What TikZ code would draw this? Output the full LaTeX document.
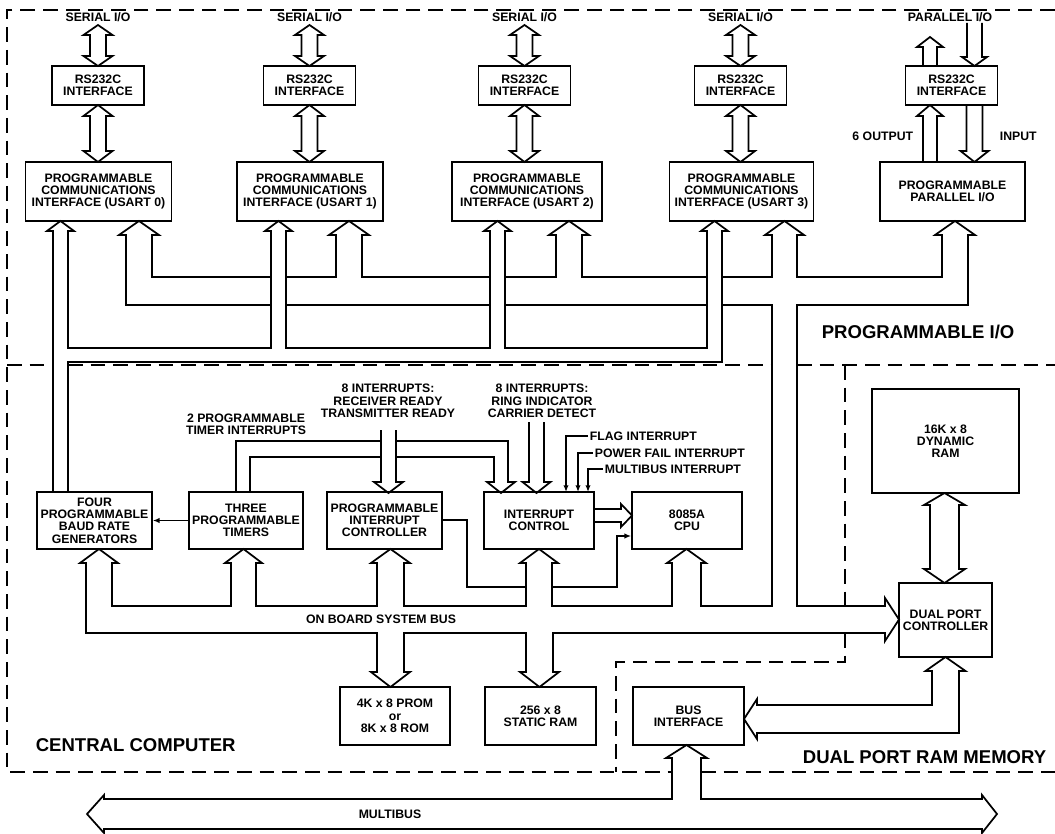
\documentclass[tikz,border=0pt]{standalone}
\usepackage{fontspec}
\setmainfont{Liberation Sans}
\usetikzlibrary{arrows.meta}

\tikzset{every picture/.style={line width=1.3pt}}
\tikzset{
  txt/.style={font=\bfseries\fontsize{9.2}{9.2}\selectfont, align=center, inner sep=0.75pt},
  big/.style={font=\bfseries\fontsize{13.9}{15}\selectfont, inner sep=0.75pt},
  blk/.style n args={2}{txt, draw, inner sep=0pt, minimum width=#1*0.75pt, minimum height=#2*0.75pt},
  region/.style={line width=1.1pt, dash pattern={on 11pt off 6pt}},
  sig/.style={-{Latex[length=5pt,width=4pt]}},
}

\begin{document}
\begin{tikzpicture}[x=0.75pt,y=0.75pt,yscale=-1,xscale=1]
		\useasboundingbox (0,0) rectangle (1055,834);
		
		%Dashed regions
		\draw [region] (1055,10) -- (7,10) -- (7,772) -- (672,772) ;
		\draw [region] (701,772) -- (1055,772) ;
		\draw [region] (7,365) -- (53,365) ;
		\draw [region] (68,365) -- (772,365) ;
		\draw [region] (797,365) -- (1055,365) ;
		\draw [region] (845,365) -- (845,606) ;
		\draw [region] (845,633) -- (845,662) -- (616,662) -- (616,772) ;
		
		% Blocks, programmable I/O
		\node [blk={92}{39}] (rs0) at (98,85.5) {RS232C\\INTERFACE};
		\node [blk={92}{39}] (rs1) at (309.5,85.5) {RS232C\\INTERFACE};
		\node [blk={92}{39}] (rs2) at (524.5,85.5) {RS232C\\INTERFACE};
		\node [blk={92}{39}] (rs3) at (740.5,85.5) {RS232C\\INTERFACE};
		\node [blk={92}{39}] (rsp) at (951.5,85.5) {RS232C\\INTERFACE};
		\node [blk={146}{59}] (usart0) at (98.5,191.5) {PROGRAMMABLE\\COMMUNICATIONS\\INTERFACE (USART 0)};
		\node [blk={146}{59}] (usart1) at (310,191.5) {PROGRAMMABLE\\COMMUNICATIONS\\INTERFACE (USART 1)};
		\node [blk={150}{59}] (usart2) at (527,191.5) {PROGRAMMABLE\\COMMUNICATIONS\\INTERFACE (USART 2)};
		\node [blk={144}{59}] (usart3) at (741.5,191.5) {PROGRAMMABLE\\COMMUNICATIONS\\INTERFACE (USART 3)};
		\node [blk={145}{59}] (ppio) at (952.5,191.5) {PROGRAMMABLE\\PARALLEL I/O};
		
		% Blocks, central computer and dual port memory
		\node [blk={115}{57}] (baud) at (94.5,520.5) {FOUR\\PROGRAMMABLE\\BAUD RATE\\GENERATORS};
		\node [blk={114}{57}] (timers) at (246,520.5) {THREE\\PROGRAMMABLE\\TIMERS};
		\node [blk={115}{57}] (pic) at (384.5,520.5) {PROGRAMMABLE\\INTERRUPT\\CONTROLLER};
		\node [blk={110}{57}] (intctl) at (539,520.5) {INTERRUPT\\CONTROL};
		\node [blk={110}{57}] (cpu) at (687,520.5) {8085A\\CPU};
		\node [blk={147}{104}] (dram) at (945.5,441) {16K x 8\\DYNAMIC\\RAM};
		\node [blk={93}{74}] (dpc) at (945.5,620) {DUAL PORT\\CONTROLLER};
		\node [blk={110}{58}] (prom) at (395,716) {4K x 8 PROM\\or\\8K x 8 ROM};
		\node [blk={111}{58}] (sram) at (540.5,716) {256 x 8\\STATIC RAM};
		\node [blk={111}{58}] (busif) at (688.5,716) {BUS\\INTERFACE};
		
		% Text Nodes
		\node [txt] (ser0) at (98,17) {SERIAL I/O};
		\node [txt] (ser1) at (309.5,17) {SERIAL I/O};
		\node [txt] (ser2) at (524.5,17) {SERIAL I/O};
		\node [txt] (ser3) at (740.5,17) {SERIAL I/O};
		\node [txt] (par) at (950,17) {PARALLEL I/O};
		\node [txt, anchor=east] (outlbl) at (915,136) {6 OUTPUT};
		\node [txt, anchor=west] (inlbl) at (998,136) {INPUT};
		\node [big, anchor=west] (piolbl) at (820,332) {PROGRAMMABLE I/O};
		\node [big, anchor=west] (cclbl) at (34,745) {CENTRAL COMPUTER};
		\node [big, anchor=west] (dplbl) at (801,757) {DUAL PORT RAM MEMORY};
		\node [txt] (tmrint) at (246,424) {2 PROGRAMMABLE\\TIMER INTERRUPTS};
		\node [txt] (rxint) at (388,401) {8 INTERRUPTS:\\RECEIVER READY\\TRANSMITTER READY};
		\node [txt] (ringint) at (542,401) {8 INTERRUPTS:\\RING INDICATOR\\CARRIER DETECT};
		\node [txt, anchor=west] (flag) at (588,436) {FLAG INTERRUPT};
		\node [txt, anchor=west] (pfail) at (593,453) {POWER FAIL INTERRUPT};
		\node [txt, anchor=west] (mbint) at (603,469) {MULTIBUS INTERRUPT};
		\node [txt] (sysbus) at (381,619.5) {ON BOARD SYSTEM BUS};
		\node [txt] (mblbl) at (390,814) {MULTIBUS};
		
		%Serial I/O double arrows
		\foreach \c in {98,309.5,524.5,740.5} {
			\draw (\c-8,35) -- (\c-14.5,35) -- (\c,25) -- (\c+14.5,35) -- (\c+8,35) -- (\c+8,56) -- (\c+14.5,56) -- (\c,66) -- (\c-14.5,56) -- (\c-8,56) -- cycle ;
			\draw (\c-8,116) -- (\c-14.5,116) -- (\c,105) -- (\c+14.5,116) -- (\c+8,116) -- (\c+8,151) -- (\c+14.5,151) -- (\c,162) -- (\c-14.5,151) -- (\c-8,151) -- cycle ;
		}
		
		%Parallel I/O arrows
		\draw (923,66) -- (923,47) -- (917,47) -- (930,37) -- (943,47) -- (937,47) -- (937,66) ;
		\draw (967,23) -- (967,57) -- (962,57) -- (974.5,66) -- (987,57) -- (982,57) -- (982,23) ;
		\draw (923,162) -- (923,116) -- (917,116) -- (930,105) -- (943,116) -- (937,116) -- (937,162) ;
		\draw (966.5,105) -- (966.5,151) -- (960.5,151) -- (974.5,162) -- (988.5,151) -- (982.5,151) -- (982.5,105) ;
		
		%Baud rate clock bus
		\draw (53,492) -- (53,231) -- (47,231) -- (60.5,221) -- (74,231) -- (68,231) -- (68,348) -- (271,348) -- (271,231) -- (265,231) -- (278.5,221) -- (292,231) -- (286,231) -- (286,348) -- (490,348) -- (490,231) -- (484,231) -- (497.5,221) -- (511,231) -- (505,231) -- (505,348) -- (707,348) -- (707,231) -- (701,231) -- (714.5,221) -- (728,231) -- (722,231) -- (722,362) -- (68,362) -- (68,492) ;
		
		%Data bus, upper branches
		\draw (271,305) -- (126,305) -- (126,235) -- (119,235) -- (139,221) -- (159,235) -- (152,235) -- (152,277) -- (271,277) ;
		\draw (286,277) -- (336,277) -- (336,235) -- (329,235) -- (349,221) -- (369,235) -- (362,235) -- (362,277) -- (490,277) ;
		\draw (505,277) -- (556,277) -- (556,235) -- (549,235) -- (569,221) -- (589,235) -- (582,235) -- (582,277) -- (707,277) ;
		\draw (286,305) -- (490,305) (505,305) -- (707,305) ;
		
		%Data bus, on board system bus
		\draw (722,277) -- (772,277) -- (772,235) -- (765,235) -- (784.5,221) -- (804,235) -- (797,235) -- (797,277) -- (942,277) -- (942,235) -- (935,235) -- (955,221) -- (975,235) -- (968,235) -- (968,305) -- (797,305) -- (797,606) -- (885,606) -- (885,598) -- (899,619.5) -- (885,641) -- (885,633) -- (553,633) -- (553,672) -- (559,672) -- (539.5,687) -- (520,672) -- (526,672) -- (526,633) -- (404,633) -- (404,672) -- (410,672) -- (390.5,687) -- (371,672) -- (377,672) -- (377,633) -- (86,633) -- (86,563) -- (80,563) -- (99,549) -- (118,563) -- (112,563) -- (112,606) -- (231,606) -- (231,563) -- (225,563) -- (243.5,549) -- (262,563) -- (256,563) -- (256,606) -- (377,606) -- (377,563) -- (371,563) -- (390.5,549) -- (410,563) -- (404,563) -- (404,606) -- (526,606) -- (526,563) -- (520,563) -- (539,549) -- (558,563) -- (552,563) -- (552,606) -- (672,606) -- (672,563) -- (667,563) -- (686.5,549) -- (706,563) -- (701,563) -- (701,606) -- (772,606) -- (772,305) -- (722,305) ;
		
		%Interrupt inputs
		\draw (236,492) -- (236,441) -- (381,441) (396,441) -- (508,441) -- (508,482) -- (515,482) -- (501,493) -- (487,482) -- (494,482) -- (494,457) -- (396,457) (381,457) -- (250,457) -- (250,492) ;
		\draw (381,430) -- (381,482) -- (374,482) -- (388.5,493) -- (403,482) -- (396,482) -- (396,430) ;
		\draw (529,422) -- (529,482) -- (522.5,482) -- (536.5,493) -- (550.5,482) -- (544,482) -- (544,422) ;
		\draw [sig] (flag.west) -- (566,436) -- (566,492) ;
		\draw [sig] (pfail.west) -- (578,453) -- (578,492) ;
		\draw [sig] (mbint.west) -- (588,469) -- (588,492) ;
		
		%Control lines
		\draw [sig] (timers) -- (baud) ;
		\draw (pic.east |- 0,520) -- (467,520) -- (467,587) -- (526,587) ;
		\draw [sig] (552,587) -- (617,587) -- (617,536) -- (cpu.west |- 0,536) ;
		\draw (594,509) -- (621,509) -- (621,504) -- (632,515.5) -- (621,527) -- (621,522) -- (594,522) ;
		
		%Dual port memory arrows
		\draw (930,505) -- (924,505) -- (944.5,493) -- (965,505) -- (959,505) -- (959,569) -- (965,569) -- (944.5,583) -- (924,569) -- (930,569) -- cycle ;
		\draw (757,705) -- (932,705) -- (932,671) -- (925.5,671) -- (945.5,657) -- (965.5,671) -- (959,671) -- (959,733) -- (757,733) -- (757,739) -- (744,719) -- (757,699) -- cycle ;
		
		%Multibus
		\draw (672,758) -- (672,799) -- (104,799) -- (104,795) -- (87,814) -- (104,833) -- (104,829) -- (982,829) -- (982,833) -- (997,814) -- (982,795) -- (982,799) -- (701,799) -- (701,758) -- (707,758) -- (686.5,745) -- (666,758) -- cycle ;
		
	\end{tikzpicture}
\end{document}
